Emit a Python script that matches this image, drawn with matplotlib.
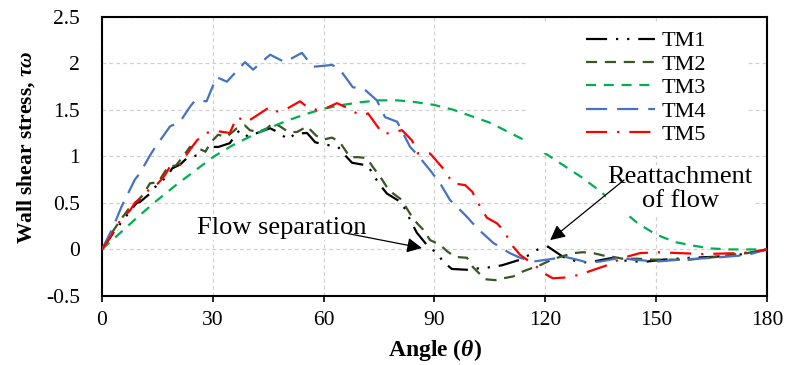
import matplotlib
matplotlib.use("Agg")
import matplotlib.pyplot as plt
from matplotlib.patches import Rectangle

plt.rcParams['font.family'] = ['Liberation Serif', 'DejaVu Serif']
plt.rcParams['mathtext.fontset'] = 'custom'
plt.rcParams['mathtext.rm'] = 'Liberation Serif'
plt.rcParams['mathtext.bfit'] = 'Liberation Serif:bold:italic'

# data: angle (deg) vs wall shear stress
tm1_x = [0, 3.1, 6, 9.4, 10.3, 13, 15, 17.6, 19, 21.1, 23, 25.7, 27.3, 29.2, 31.5, 34.6, 36.5, 37.4, 39.5, 42,
         45.5, 47.6, 50.4, 52.2, 55.5, 57.7, 59.8, 63.9, 65.8, 67.7, 72, 73.4, 75.3, 77.1, 81.2, 82.5, 83.9, 85.2,
         88.3, 90.7, 92.3, 94.7, 99.6, 102.3, 105.6, 108.3, 113.2, 115.6, 118, 120.7, 124.8, 128.6, 131.3, 133,
         138.3, 141.6, 144.8, 147.5, 151.9, 159.2, 165.4, 172, 180]
tm1_y = [0, 0.18, 0.33, 0.5, 0.51, 0.6, 0.7, 0.78, 0.87, 0.91, 0.98, 1.01, 1.03, 1.1, 1.1, 1.14, 1.25, 1.28, 1.21, 1.25,
         1.30, 1.26, 1.18, 1.24, 1.25, 1.15, 1.13, 1.1, 1.01, 0.93, 0.90, 0.80, 0.69, 0.60, 0.50, 0.39, 0.28, 0.18,
         0.03, -0.04, -0.13, -0.21, -0.22, -0.2, -0.19, -0.17, -0.11, -0.06, 0.0, 0.03, -0.08, -0.13, -0.14, -0.13,
         -0.09, -0.12, -0.13, -0.13, -0.11, -0.09, -0.08, -0.06, 0]

tm2_x = [0, 2.2, 4.9, 7.5, 9.5, 11, 13, 15.2, 17.9, 20, 22, 23.8, 25.7, 28, 29.5, 31.4, 33.8, 36.5, 38.7, 40, 42.2,
         44.7, 46.3, 48.2, 50.5, 52.8, 55.5, 58, 60, 62.3, 64.4, 67.1, 69.4, 71.7, 73.4, 75.3, 77.1, 78.8, 81.2,
         82.5, 83.9, 85.3, 87, 88.8, 91.5, 93.4, 95.6, 98.8, 100.4, 101.9, 103.7, 106.4, 108.6, 111.3, 113.7,
         116.4, 118, 120.7, 123.2, 127.5, 130.2, 133, 136.2, 138.3, 141, 144.8, 149.2, 155, 159, 163.8, 166.5,
         171.9, 174.6, 180]
tm2_y = [0, 0.15, 0.31, 0.45, 0.52, 0.58, 0.71, 0.72, 0.89, 0.9, 1.0, 1.1, 1.09, 1.05, 1.15, 1.23, 1.21, 1.3, 1.33,
         1.28, 1.26, 1.3, 1.36, 1.32, 1.26, 1.26, 1.32, 1.22, 1.18, 1.2, 1.15, 0.99, 0.99, 0.98, 0.88, 0.78, 0.67,
         0.6, 0.53, 0.44, 0.35, 0.28, 0.21, 0.1, 0.05, -0.02, -0.08, -0.09, -0.19, -0.25, -0.32, -0.33, -0.31,
         -0.29, -0.24, -0.2, -0.18, -0.13, -0.09, -0.04, -0.03, -0.04, -0.07, -0.08, -0.1, -0.1, -0.11, -0.11,
         -0.11, -0.09, -0.08, -0.05, -0.04, 0]

tm3_x = [0, 5, 10, 15, 20, 25, 30, 35, 40, 45, 50, 55, 60, 65, 70, 75, 80, 85, 90, 95, 100, 105, 110, 115, 120,
         125, 130, 135, 140, 145, 150, 155, 160, 165, 170, 175, 180]
tm3_y = [0, 0.18, 0.36, 0.53, 0.69, 0.84, 0.99, 1.11, 1.21, 1.30, 1.38, 1.45, 1.51, 1.55, 1.58, 1.60, 1.60, 1.58,
         1.55, 1.50, 1.43, 1.36, 1.26, 1.16, 1.03, 0.90, 0.77, 0.62, 0.45, 0.28, 0.16, 0.08, 0.04, 0.01, 0.0, 0.0,
         0.0]

tm4_x = [0, 3, 5.3, 8.9, 10.3, 13, 14.3, 18.4, 21.1, 23.8, 25.2, 28.3, 31, 33.8, 38.7, 40.9, 45.5, 49.5, 54.1,
         57.1, 62.3, 64.4, 67.9, 70.7, 74.4, 76.6, 79.9, 83.4, 85.5, 88.8, 91.5, 94.2, 98.3, 101.5, 105.9, 110.4,
         113.2, 116.7, 120.5, 125.3, 128.6, 131.3, 134.8, 140.2, 143.7, 150.2, 156.5, 165.4, 174.6, 180]
tm4_y = [0, 0.24, 0.46, 0.75, 0.82, 1.01, 1.09, 1.32, 1.37, 1.53, 1.60, 1.59, 1.85, 1.80, 2.01, 1.93, 2.09, 2.01,
         2.11, 1.96, 1.98, 1.93, 1.74, 1.73, 1.60, 1.42, 1.37, 1.10, 1.01, 0.85, 0.71, 0.53, 0.37, 0.23, 0.07,
         -0.04, -0.09, -0.13, -0.11, -0.08, -0.11, -0.14, -0.13, -0.09, -0.11, -0.13, -0.11, -0.09, -0.06, 0]

tm5_x = [0, 2.2, 4.9, 7.6, 8.9, 11.1, 13, 15.2, 17.1, 18.4, 21.1, 23.8, 25.7, 28, 31.1, 34.6, 36.5, 39.3, 42,
         45.5, 47.4, 50.5, 53.6, 55.5, 58, 60.9, 63.6, 66.3, 68.5, 70.7, 72, 76, 78, 81.2, 83.9, 85.5, 88.8, 92.3,
         95, 98.3, 100.2, 102.9, 104.2, 106.9, 108.6, 109.9, 111.3, 113.2, 117.2, 119.4, 122, 125.9, 129.4, 133,
         136.7, 141, 145.6, 150.2, 156.5, 162.7, 171.9, 176, 180]
tm5_y = [0, 0.13, 0.31, 0.42, 0.5, 0.56, 0.66, 0.71, 0.8, 0.89, 0.91, 1.07, 1.17, 1.25, 1.27, 1.25, 1.42, 1.37,
         1.44, 1.53, 1.48, 1.52, 1.59, 1.53, 1.50, 1.52, 1.57, 1.52, 1.47, 1.44, 1.46, 1.24, 1.25, 1.28, 1.17,
         1.03, 1.03, 0.87, 0.71, 0.69, 0.62, 0.42, 0.34, 0.28, 0.21, 0.12, 0.03, -0.06, -0.17, -0.25, -0.31,
         -0.30, -0.27, -0.22, -0.17, -0.09, -0.04, -0.03, -0.04, -0.05, -0.04, -0.03, 0]

x_ticks = [0, 30, 60, 90, 120, 150, 180]
y_ticks = [-0.5, 0, 0.5, 1, 1.5, 2, 2.5]
y_tick_labels = ['-0.5', '0', '0.5', '1', '1.5', '2', '2.5']

fig = plt.figure(figsize=(7.87, 3.65), dpi=100)
ax = fig.add_axes([102/787, 1-296/365, 665/787, 279.5/365])

lw = 1.6
ax.plot(tm1_x, tm1_y, color='black', lw=lw, dashes=[9.5, 4, 1, 4, 1, 4], label='TM1', zorder=3)
ax.plot(tm2_x, tm2_y, color='#385723', lw=lw, dashes=[5, 3.5], label='TM2', zorder=3)
ax.plot(tm3_x, tm3_y, color='#00B050', lw=lw, dashes=[4.5, 3.5], label='TM3', zorder=3)
ax.plot(tm4_x, tm4_y, color='#4472C4', lw=lw, dashes=[9.5, 4.5], label='TM4', zorder=3)
ax.plot(tm5_x, tm5_y, color='#FF0000', lw=lw, dashes=[9.5, 4.5, 1, 4.5], label='TM5', zorder=3)

ax.set_xlim(0, 180)
ax.set_ylim(-0.5, 2.5)
ax.set_xticks(x_ticks)
ax.set_yticks(y_ticks)
ax.set_xticklabels([str(t) for t in x_ticks])
ax.set_yticklabels(y_tick_labels)
ax.tick_params(axis='x', direction='out', length=4, width=1.2, labelsize=15.5, pad=7)
ax.tick_params(axis='y', length=0, labelsize=15.5, pad=16)
ax.grid(True, color='#D0D0D0', lw=0.9, dashes=[3, 2.5], zorder=0)
ax.set_axisbelow(True)
for s in ax.spines.values():
    s.set_linewidth(1.5)
    s.set_color('black')

ax.set_xlabel(r'Angle ($\mathbfit{\theta}$)', fontsize=17, fontweight='bold', va='center')
ax.xaxis.set_label_coords(0.5, -0.193)
ax.set_ylabel(r'Wall shear stress, $\mathbfit{\tau\omega}$', fontsize=15.5, fontweight='bold', va='center')
ax.yaxis.set_label_coords(-0.114, 0.531)

# white box behind legend (covers grid and lines like the original)
ax.add_patch(Rectangle((0.639, 0.512), 0.33, 0.468, transform=ax.transAxes,
                       facecolor='white', edgecolor='none', zorder=4))
leg = ax.legend(loc='upper left', bbox_to_anchor=(0.721, 0.965), frameon=False, fontsize=16,
                handlelength=3.1, handletextpad=0.3, labelspacing=0.13, borderpad=0.2, borderaxespad=0)
leg.set_zorder(5)

ax.text(25.7, 0.165, 'Flow separation', fontsize=19, ha='left', va='baseline', zorder=5,
        bbox=dict(facecolor='white', edgecolor='none', pad=1))
ax.annotate('', xy=(86.6, 0.015), xytext=(66.2, 0.173), zorder=6,
            arrowprops=dict(arrowstyle='-|>,head_length=0.6,head_width=0.3', color='black', lw=0.9,
                            mutation_scale=15, shrinkA=0, shrinkB=0))

ax.text(156.5, 0.89, 'Reattachment\nof flow', fontsize=19, ha='center', va='top', linespacing=1.1,
        zorder=5, bbox=dict(facecolor='white', edgecolor='none', pad=1))
ax.annotate('', xy=(121.3, 0.10), xytext=(141.3, 0.745), zorder=6,
            arrowprops=dict(arrowstyle='-|>,head_length=0.6,head_width=0.3', color='black', lw=0.9,
                            mutation_scale=15, shrinkA=0, shrinkB=0))

fig.savefig('out.png', dpi=100)
